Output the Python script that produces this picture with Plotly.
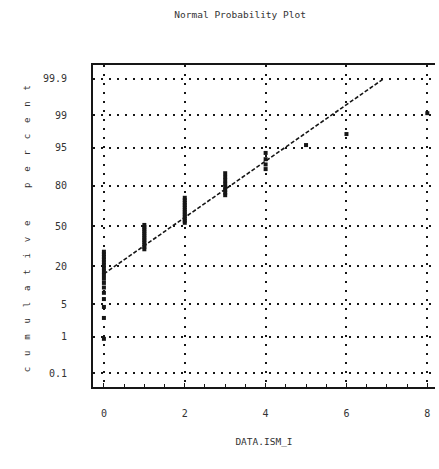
from statistics import NormalDist
import numpy as np
import plotly.graph_objects as go

# Observed values of DATA.ISM_I and how many times each occurs
values = [0, 1, 2, 3, 4, 5, 6, 8]
counts = [17, 12, 12, 8, 4, 1, 1, 1]

# Probability-scale tick marks (cumulative percent)
pct_ticks = [0.1, 1, 5, 20, 50, 80, 95, 99, 99.9]
pct_labels = ["0.1", "1", "5", "20", "50", "80", "95", "99", "99.9"]
x_ticks = [0, 2, 4, 6, 8]

nd = NormalDist()
data = np.repeat(values, counts).astype(float)
data.sort()
n = len(data)
# plotting positions -> normal quantiles
z_pts = [nd.inv_cdf((i - 0.5) / n) for i in range(1, n + 1)]

# fitted normal reference line, drawn up to the 99.9 % level
mu = data.mean()
sd = data.std()
z_top = nd.inv_cdf(0.999)
x_line = [data.min(), mu + sd * z_top]
z_line = [(x - mu) / sd for x in x_line]

z_ticks = [nd.inv_cdf(p / 100) for p in pct_ticks]

ink = "#161616"
txt = "#333333"
mono = "DejaVu Sans Mono"

fig = go.Figure()
fig.add_trace(go.Scatter(
    x=x_line, y=z_line, mode="lines",
    line=dict(color=ink, width=1.6, dash="4px,2px"),
    hoverinfo="skip", showlegend=False,
))
fig.add_trace(go.Scatter(
    x=data, y=z_pts, mode="markers",
    marker=dict(symbol="square", size=4, color=ink, line=dict(width=0)),
    showlegend=False,
))

fig.update_layout(
    width=439, height=469,
    margin=dict(l=93, r=4, t=65, b=82),
    paper_bgcolor="white", plot_bgcolor="white",
    font=dict(family=mono, size=9, color=txt),
    title=dict(text="Normal Probability Plot", x=0.547, xanchor="center",
               y=1 - 15 / 469, yanchor="middle",
               font=dict(family=mono, size=9.5, color=txt)),
)

fig.update_xaxes(
    range=[-0.27, 8.19], tickvals=x_ticks,
    showgrid=True, gridcolor=ink, gridwidth=1.5, griddash="2px,7px",
    zeroline=False,
    showline=True, linecolor=ink, linewidth=2, mirror=True,
    ticks="inside", ticklen=4, tickcolor=ink,
    minor=dict(dtick=0.5, tick0=0, ticks="inside", ticklen=3, tickcolor=ink, showgrid=False),
    ticklabelstandoff=16,
    tickfont=dict(family=mono, size=10, color=txt),
    title=dict(text="DATA.ISM_I", standoff=20, font=dict(family=mono, size=9.5, color=txt)),
)
fig.update_yaxes(
    range=[-3.38, 3.38], tickvals=z_ticks, ticktext=pct_labels,
    showgrid=True, gridcolor=ink, gridwidth=1.5, griddash="2px,6px",
    zeroline=False,
    showline=True, linecolor=ink, linewidth=2, mirror=False,
    ticks="", ticklabelstandoff=22,
    tickfont=dict(family=mono, size=10, color=txt),
)

sp = "\u00a0\u00a0"
ytitle = sp.join("cumulative") + sp * 3 + sp.join("percent")
fig.add_annotation(
    text=ytitle, xref="paper", yref="paper",
    x=(20 - 93) / (435 - 93), y=0.49, textangle=-90,
    showarrow=False, font=dict(family=mono, size=9, color=txt),
)

fig.write_html("out.html")
